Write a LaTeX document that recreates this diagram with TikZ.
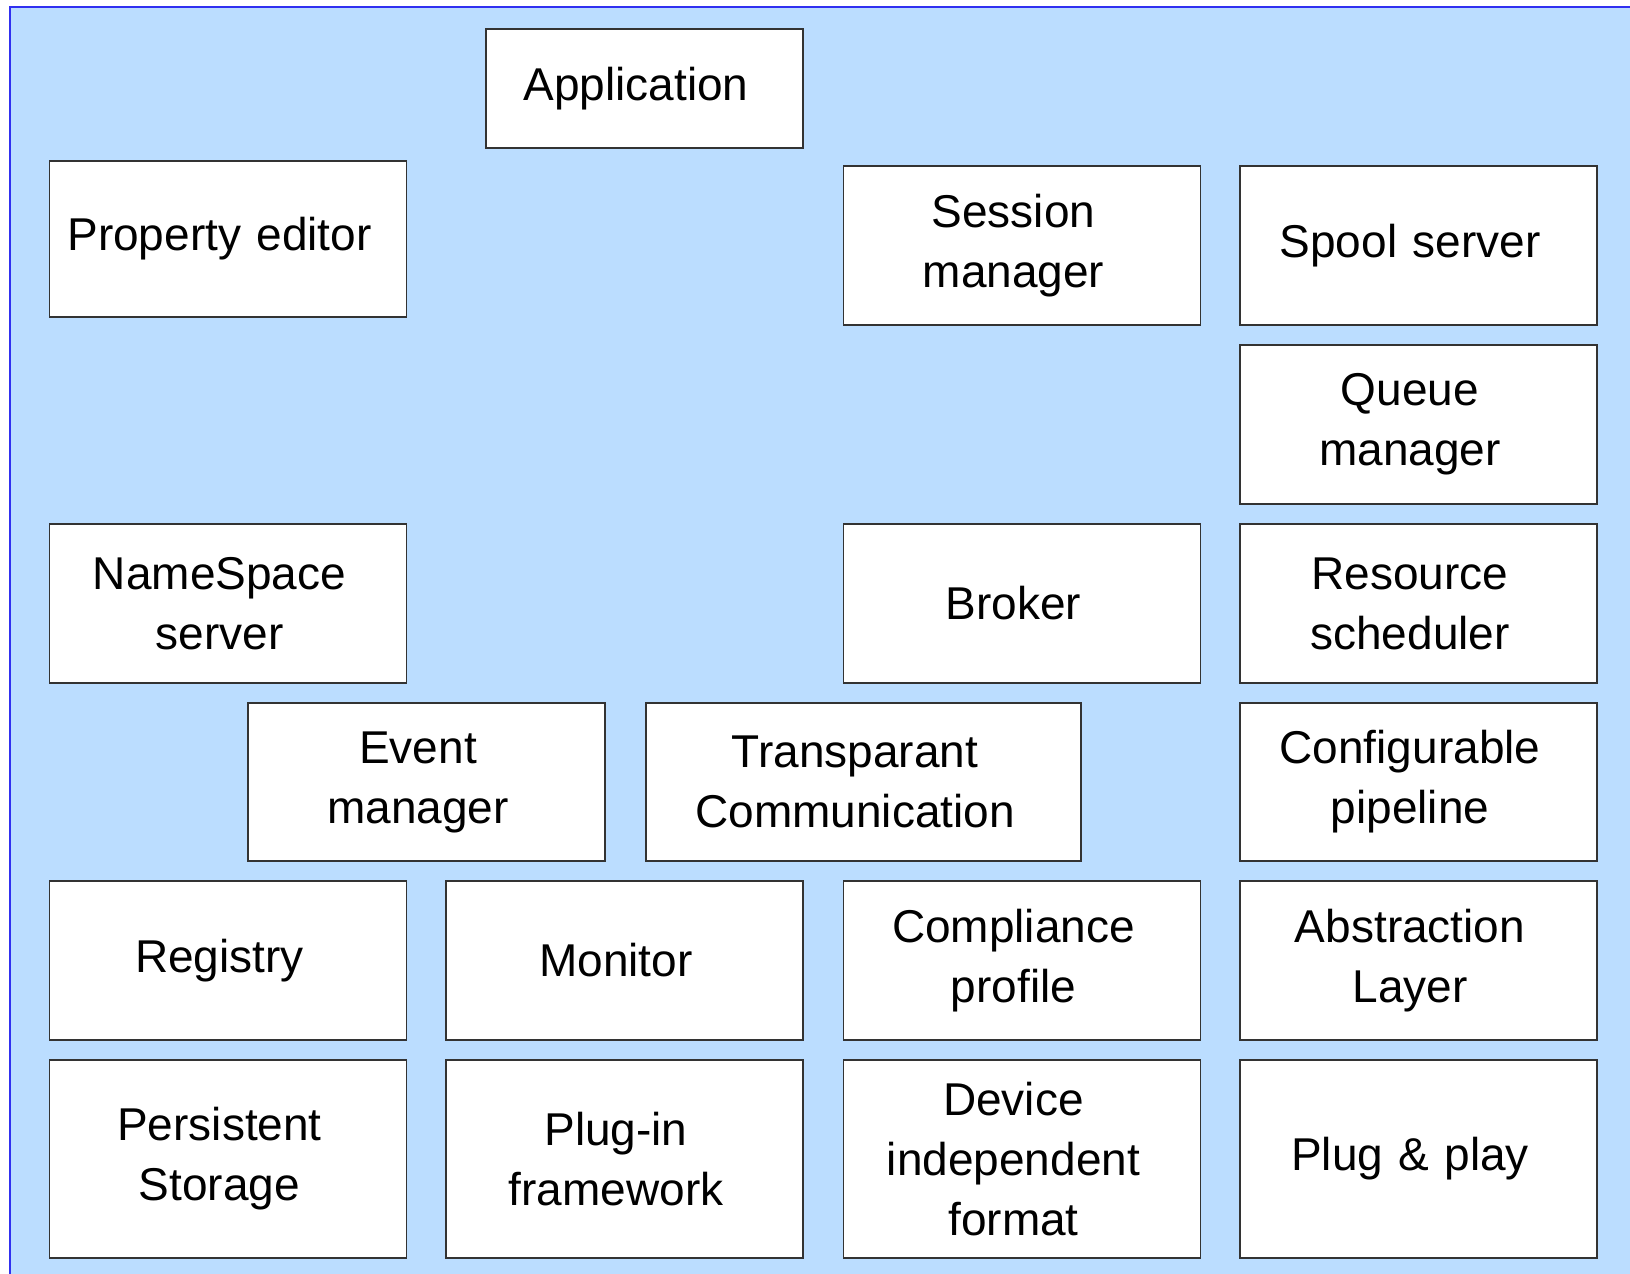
\documentclass[tikz,border=0pt]{standalone}
\usepackage{fontspec}
\setmainfont{Liberation Sans}
\usetikzlibrary{positioning}
\definecolor{panelblue}{HTML}{BBDDFF}
\definecolor{panelline}{HTML}{3030F0}
\definecolor{boxline}{HTML}{333333}

\begin{document}
\begin{tikzpicture}[x=1pt,y=-1pt,
            box/.style={draw=boxline,line width=1.5pt,fill=white,
                minimum width=357pt,minimum height=159pt,text width=341pt,
                inner sep=0pt,
                execute at begin node={\leftskip=0pt plus 1fil\rightskip=17pt plus 1fil\parfillskip=0pt},
                font=\fontsize{46}{60}\selectfont},
            transform shape]
            \useasboundingbox (0,0) rectangle (1630,1274);
            \fill[panelblue] (10,7) rectangle (1650,1294);
            \draw[panelline,line width=2pt] (10,1294) -- (10,7) -- (1650,7);

            \node[box,minimum width=317pt,minimum height=119pt,text width=301pt] (app) at (644.5,88.5) {Application};
            \node[box,minimum height=156pt] (prop) at (228,239) {Property editor};
            \node[box] (sess) at (1022,245.5) {Session\\manager};
            \node[box] (spool) at (1418.5,245.5) {Spool server};
            \node[box] (queue) at (1418.5,424.5) {Queue\\manager};
            \node[box] (ns) at (228,603.5) {NameSpace\\server};
            \node[box] (broker) at (1022,603.5) {Broker};
            \node[box] (res) at (1418.5,603.5) {Resource\\scheduler};
            \node[box,minimum height=158pt] (event) at (426.5,782) {Event\\manager};
            \node[box,minimum width=435pt,minimum height=158pt,text width=419pt] (transp) at (863.5,782) {Transparant\\Communication};
            \node[box,minimum height=158pt] (config) at (1418.5,782) {Configurable\\pipeline};
            \node[box] (reg) at (228,960.5) {Registry};
            \node[box] (mon) at (624.5,960.5) {Monitor};
            \node[box] (comp) at (1022,960.5) {Compliance\\profile};
            \node[box] (abs) at (1418.5,960.5) {Abstraction\\Layer};
            \node[box,minimum height=198pt] (pers) at (228,1159) {Persistent\\Storage};
            \node[box,minimum height=198pt] (plugin) at (624.5,1159) {Plug-in\\framework};
            \node[box,minimum height=198pt] (dev) at (1022,1159) {Device\\independent\\format};
            \node[box,minimum height=198pt] (pnp) at (1418.5,1159) {Plug \& play};
\end{tikzpicture}
\end{document}
